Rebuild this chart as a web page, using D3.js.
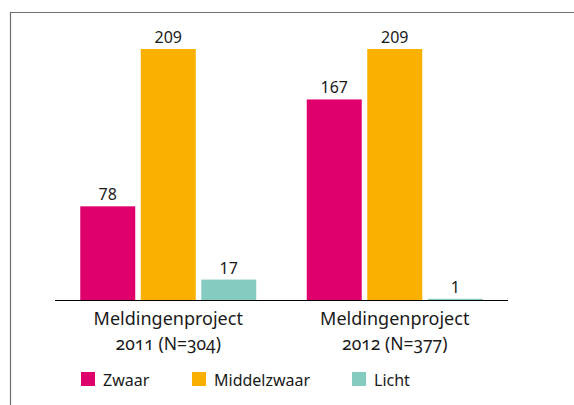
<!DOCTYPE html>
<html>
<head>
<meta charset="utf-8">
<script src="https://cdn.jsdelivr.net/npm/d3@7"></script>
<style>
  body { margin: 0; background: #fff; }
  text { font-family: "Noto Sans", sans-serif; fill: #1a1a1a; }
</style>
</head>
<body>
<script>
const m = {
  width: 574,
  height: 405
}

// data
const groups = ["Meldingenproject|2011 (N=304)", "Meldingenproject|2012 (N=377)"];
const series = ["Zwaar", "Middelzwaar", "Licht"];
const colors = ["#e0006b", "#f9b000", "#85ccc0"];
const values = [
  [78, 209, 17],
  [167, 209, 1]
];

let svg = d3.select("body")
  .append("svg")
  .attr("width", m.width)
  .attr("height", m.height);

// frame lines (left + top)
svg.append("path")
  .attr("d", "M10.5,405V12.5H574")
  .attr("fill", "none")
  .attr("stroke", "#707070")
  .attr("stroke-width", 1.2);

let x0 = d3.scaleBand()
  .domain(groups)
  .range([55, 508])
  .paddingInner(0.223)
  .paddingOuter(0.1115);

let x1 = d3.scaleBand()
  .domain(series)
  .range([0, x0.bandwidth()])
  .paddingInner(0.091);

let y = d3.scaleLinear()
  .domain([0, 209])
  .range([300, 49]);

let color = d3.scaleOrdinal().domain(series).range(colors);

let g = svg.selectAll("g.grp")
  .data(groups)
  .enter()
  .append("g")
  .attr("class", "grp")
  .attr("transform", d => `translate(${x0(d)},0)`);

let bars = g.selectAll("g.bar")
  .data((d, i) => series.map((s, j) => ({ s: s, v: values[i][j] })))
  .enter()
  .append("g")
  .attr("class", "bar");

bars.append("rect")
  .attr("x", d => x1(d.s))
  .attr("y", d => y(d.v))
  .attr("width", x1.bandwidth())
  .attr("height", d => y(0) - y(d.v))
  .attr("fill", d => color(d.s));

bars.append("text")
  .attr("x", d => x1(d.s) + x1.bandwidth() / 2)
  .attr("y", d => y(d.v) - 6)
  .attr("text-anchor", "middle")
  .style("font-size", "16px")
  .text(d => d.v);

// baseline
svg.append("line")
  .attr("x1", 55)
  .attr("x2", 508)
  .attr("y1", y(0) + 0.5)
  .attr("y2", y(0) + 0.5)
  .attr("stroke", "#000")
  .attr("stroke-width", 1.2);

// category labels
let cat = svg.selectAll("text.cat")
  .data(groups)
  .enter()
  .append("text")
  .attr("class", "cat")
  .attr("text-anchor", "middle");

cat.append("tspan")
  .attr("x", d => x0(d) + x0.bandwidth() / 2)
  .attr("y", 325)
  .style("font-size", "18px")
  .text(d => d.split("|")[0]);

cat.append("tspan")
  .attr("x", d => x0(d) + x0.bandwidth() / 2)
  .attr("y", 350)
  .style("font-size", "17.5px")
  .style("font-variant-numeric", "oldstyle-nums")
  .text(d => d.split("|")[1]);

// legend
const legendX = [81, 192, 352];
let legend = svg.selectAll("g.leg")
  .data(series)
  .enter()
  .append("g")
  .attr("class", "leg")
  .attr("transform", (d, i) => `translate(${legendX[i]},372)`);

legend.append("rect")
  .attr("width", 14)
  .attr("height", 14)
  .attr("fill", d => color(d));

legend.append("text")
  .attr("x", 22)
  .attr("y", 14)
  .style("font-size", "16px")
  .text(d => d);
</script>
</body>
</html>
